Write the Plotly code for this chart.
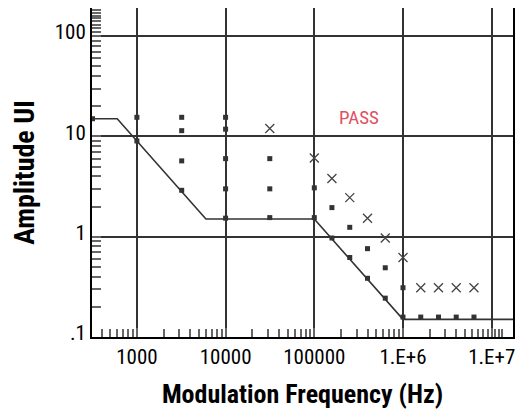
import plotly.graph_objects as go

# Jitter tolerance mask (Hz, UI)
mask_f = [310, 600, 6000, 100000, 1000000, 2.0e7]
mask_ui = [15, 15, 1.5, 1.5, 0.15, 0.15]

# Measured points (filled squares)
sq_f = [316, 1000, 1000,
        3200, 3200, 3200, 3200,
        10000, 10000, 10000, 10000, 10000,
        31500, 31500, 31500,
        100000, 100000,
        158000, 251000, 398000, 631000, 1000000,
        158000, 251000, 398000, 631000, 1000000,
        1585000, 2512000, 3981000, 6310000]
sq_ui = [15, 15.5, 9,
         15.5, 11.4, 5.7, 2.9,
         15.5, 11.8, 6.0, 3.0, 1.53,
         6.0, 3.0, 1.55,
         3.07, 1.55,
         1.95, 1.24, 0.76, 0.49, 0.31,
         0.97, 0.62, 0.385, 0.244, 0.158,
         0.158, 0.158, 0.158, 0.158]

# Measured points (crosses)
x_f = [31500, 100000, 158000, 251000, 398000, 631000, 1000000,
       1585000, 2512000, 3981000, 6310000]
x_ui = [12.0, 6.1, 3.8, 2.45, 1.53, 0.97, 0.62,
        0.31, 0.31, 0.31, 0.31]

x_tickvals = [1e3, 1e4, 1e5, 1e6, 1e7]
x_ticktext = ["1000", "10000", "100000", "1.E+6", "1.E+7"]
y_tickvals = [0.1, 1, 10, 100]
y_ticktext = [".1", "1", "10", "100"]

# minor (2..9) tick positions per decade
x_minor = [400, 500, 600, 700, 800, 900,
           2000, 3000, 4000, 5000, 6000, 7000, 8000, 9000,
           20000, 30000, 40000, 50000, 60000, 70000, 80000, 90000,
           200000, 300000, 400000, 500000, 600000, 700000, 800000, 900000,
           2e6, 3e6, 4e6, 5e6, 6e6, 7e6, 8e6, 9e6, 1.1e7, 1.2e7, 1.3e7]
y_minor = [0.2, 0.3, 0.4, 0.5, 0.6, 0.7, 0.8, 0.9,
           2, 3, 4, 5, 6, 7, 8, 9,
           20, 30, 40, 50, 60, 70, 80, 90,
           110, 120, 130, 140, 150, 160, 170, 180]

X_RANGE = [2.494, 7.24]
Y_RANGE = [-1.0, 2.28]

FONT = "Liberation Sans Narrow, Roboto Condensed, Arial Narrow, Liberation Sans, sans-serif"

fig = go.Figure()
fig.add_trace(go.Scatter(x=mask_f, y=mask_ui, mode="lines",
                         line=dict(color="#333333", width=1.6),
                         hoverinfo="skip", showlegend=False))
fig.add_trace(go.Scatter(x=sq_f, y=sq_ui, mode="markers",
                         marker=dict(symbol="square", size=5, color="#333333"),
                         showlegend=False))
fig.add_trace(go.Scatter(x=x_f, y=x_ui, mode="markers",
                         marker=dict(symbol="x-thin", size=9,
                                     line=dict(color="#444444", width=1.3)),
                         showlegend=False))

fig.add_annotation(x=5.505, y=1.19, xref="x", yref="y", text="PASS",
                   showarrow=False,
                   font=dict(family=FONT, size=19, color="#e0505e"))

fig.update_layout(
    width=507, height=401,
    margin=dict(l=84, r=2, t=0, b=72),
    paper_bgcolor="white", plot_bgcolor="white",
    xaxis=dict(type="log", range=X_RANGE, automargin=False,
               tickvals=x_tickvals, ticktext=x_ticktext,
               showgrid=True, gridcolor="#333333", gridwidth=1.6,
               showline=True, mirror=True, linecolor="black", linewidth=2,
               ticks="inside", ticklen=9, tickwidth=1.5, tickcolor="#666666",
               ticklabelstandoff=0, ticklabeloverflow="allow",
               minor=dict(tickvals=x_minor, ticks="inside", ticklen=8,
                          tickwidth=1.5, tickcolor="#666666", showgrid=False),
               tickfont=dict(family=FONT, size=21, color="black"),
               title=dict(text="<b>Modulation Frequency (Hz)</b>", standoff=22,
                          font=dict(family=FONT, size=26, color="black")),
               zeroline=False),
    yaxis=dict(type="log", range=Y_RANGE, automargin=False,
               tickvals=y_tickvals, ticktext=y_ticktext,
               showgrid=True, gridcolor="#333333", gridwidth=1.6,
               showline=True, mirror=True, linecolor="black", linewidth=2,
               ticks="inside", ticklen=9, tickwidth=1.5, tickcolor="#666666",
               ticklabelstandoff=0, ticklabelshift=-4,
               minor=dict(tickvals=y_minor, ticks="inside", ticklen=9,
                          tickwidth=1.5, tickcolor="#666666", showgrid=False),
               tickfont=dict(family=FONT, size=21, color="black"),
               title=dict(text="<b>Amplitude UI</b>", standoff=13,
                          font=dict(family=FONT, size=28, color="black")),
               zeroline=False),
)

fig.write_html("out.html")
